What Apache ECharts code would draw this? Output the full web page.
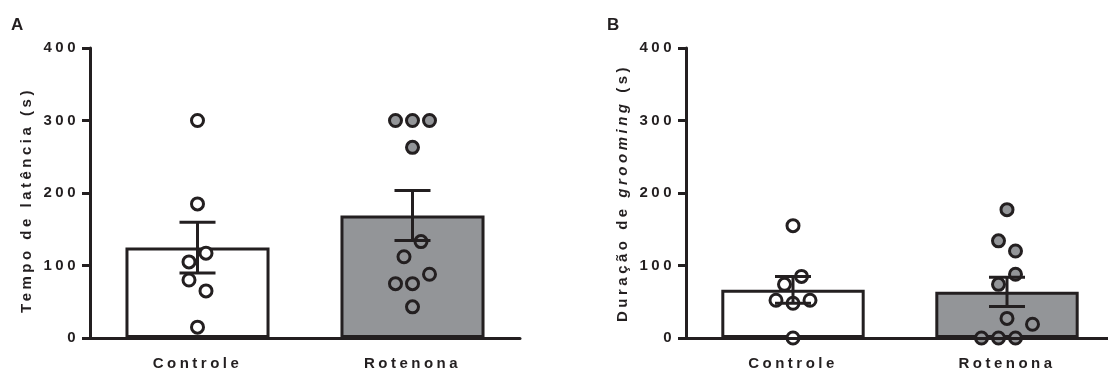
<!DOCTYPE html>
<html>
<head>
<meta charset="utf-8">
<script src="https://cdn.jsdelivr.net/npm/echarts@6/dist/echarts.min.js"></script>
<style>
html, body { margin: 0; padding: 0; background: #fff; }
#main { width: 1108px; height: 371px; }
</style>
</head>
<body>
<div id="main"></div>
<script>
// valores
var categories = ['Controle', 'Rotenona'];
var yTicks = [0, 100, 200, 300, 400];

var latCtrl = [300, 185, 117, 105, 80, 65, 15];
var latRot = [300, 300, 300, 263, 133, 112, 88, 75, 75, 43];
var latMean = [124.7, 169];
var latSem = [35, 34.5];

var groomCtrl = [155, 85, 74, 52, 48, 52, 0];
var groomRot = [177, 134, 120, 88, 74, 27, 19, 0, 0, 0];
var groomMean = [66.5, 63.7];
var groomSem = [18.5, 20.2];

// posicao lateral dos pontos (em meio-diametro)
var slotLatCtrl = [0, 0, 1, -1, -1, 1, 0];
var slotLatRot = [-2, 0, 2, 0, 1, -1, 2, -2, 0, 0];
var slotGroomCtrl = [0, 1, -1, -2, 0, 2, 0];
var slotGroomRot = [0, -1, 1, 1, -1, 0, 3, -3, -1, 1];

var INK = '#231f20';
var GREY = '#939598';
var FONT = 'Liberation Sans';

// espacamento entre letras como no grafico original
['fillText', 'strokeText', 'measureText'].forEach(function (fn) {
    var orig = CanvasRenderingContext2D.prototype[fn];
    CanvasRenderingContext2D.prototype[fn] = function () {
        this.letterSpacing = '3.5px';
        return orig.apply(this, arguments);
    };
});

var txt = { color: INK, fontFamily: FONT, fontWeight: 'bold', fontSize: 15 };

function xAxis(idx) {
    return {
        type: 'category', gridIndex: idx, data: categories, z: 10,
        axisLine: { lineStyle: { color: INK, width: 3 } },
        axisTick: { show: false },
        axisLabel: Object.assign({ margin: 17 }, txt)
    };
}

function yAxis(idx, name, pad, rich) {
    return {
        type: 'value', gridIndex: idx, z: 10,
        min: yTicks[0], max: yTicks[yTicks.length - 1], interval: yTicks[1] - yTicks[0],
        name: name, nameLocation: 'middle', nameRotate: 90, nameGap: 54,
        nameTextStyle: Object.assign({ rich: rich || {}, padding: pad }, txt),
        axisLine: { show: true, lineStyle: { color: INK, width: 3 } },
        axisTick: { show: true, length: 8, lineStyle: { color: INK, width: 3 } },
        axisLabel: Object.assign({ margin: 11, padding: [3, 0, 0, 0] }, txt),
        splitLine: { show: false }
    };
}

function bars(idx, mean) {
    return {
        type: 'bar', xAxisIndex: idx, yAxisIndex: idx, z: 2, barWidth: '67%',
        data: mean.map(function (m, i) {
            return { value: m, itemStyle: { color: i == 0 ? '#ffffff' : GREY } };
        }),
        itemStyle: { borderColor: INK, borderWidth: 3 }
    };
}

function dots(idx, cat, values, slots, fill) {
    return {
        type: 'scatter', xAxisIndex: idx, yAxisIndex: idx, z: 3,
        symbol: 'circle', symbolSize: 12,
        itemStyle: { color: fill, borderColor: INK, borderWidth: 3, opacity: 1 },
        data: values.map(function (v, i) {
            return { value: [cat, v], symbolOffset: [slots[i] * 8.5, 0] };
        })
    };
}

function errors(idx, mean, sem) {
    return {
        type: 'custom', xAxisIndex: idx, yAxisIndex: idx, z: 4,
        encode: { x: 0, y: [1, 2] },
        data: mean.map(function (m, i) { return [i, m - sem[i], m + sem[i]]; }),
        renderItem: function (params, api) {
            var lo = api.coord([api.value(0), api.value(1)]);
            var hi = api.coord([api.value(0), api.value(2)]);
            var hw = 18;
            var st = { stroke: INK, lineWidth: 3 };
            return {
                type: 'group',
                children: [
                    { type: 'line', shape: { x1: hi[0], y1: hi[1], x2: lo[0], y2: lo[1] }, style: st },
                    { type: 'line', shape: { x1: hi[0] - hw, y1: hi[1], x2: hi[0] + hw, y2: hi[1] }, style: st },
                    { type: 'line', shape: { x1: lo[0] - hw, y1: lo[1], x2: lo[0] + hw, y2: lo[1] }, style: st }
                ]
            };
        }
    };
}

var myChart = echarts.init(document.getElementById('main'));
var option = {
    animation: false,
    title: [
        { text: 'A', left: 11, top: 15, padding: 0, textStyle: Object.assign({}, txt, { fontSize: 17 }) },
        { text: 'B', left: 607, top: 15, padding: 0, textStyle: Object.assign({}, txt, { fontSize: 17 }) }
    ],
    grid: [
        { left: 90, top: 48, width: 430, height: 290, outerBoundsMode: 'none' },
        { left: 686, top: 48, width: 428, height: 290, outerBoundsMode: 'none' }
    ],
    xAxis: [xAxis(0), xAxis(1)],
    yAxis: [
        yAxis(0, 'Tempo de latência (s)', [0, 14, 0, 0]),
        yAxis(1, 'Duração de {i|grooming} (s)', [0, 0, 0, 0], { i: Object.assign({}, txt, { fontStyle: 'italic' }) })
    ],
    series: [
        bars(0, latMean),
        dots(0, 0, latCtrl, slotLatCtrl, '#ffffff'),
        dots(0, 1, latRot, slotLatRot, GREY),
        errors(0, latMean, latSem),
        bars(1, groomMean),
        dots(1, 0, groomCtrl, slotGroomCtrl, '#ffffff'),
        dots(1, 1, groomRot, slotGroomRot, GREY),
        errors(1, groomMean, groomSem)
    ]
};
myChart.setOption(option);
</script>
</body>
</html>
